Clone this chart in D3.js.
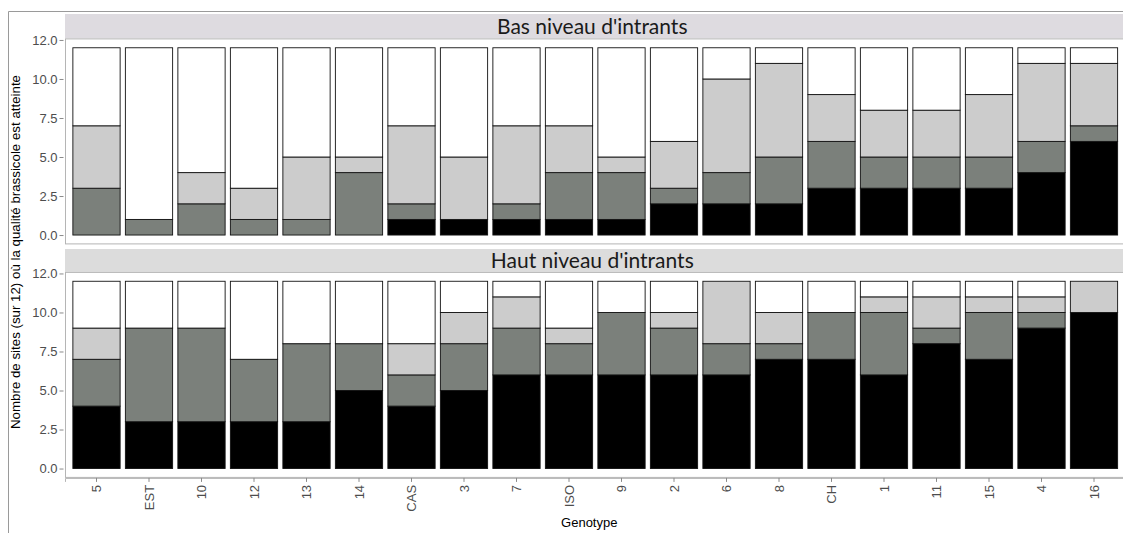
<!DOCTYPE html>
<html lang="fr">
<head>
<meta charset="utf-8">
<style>
  body { margin: 0; background: #fff; }
  .tick text { font-family: "Liberation Sans", Arial, sans-serif; font-size: 13px; fill: #4d4d4d; }
  .tick line { stroke: #8a8a8a; }
  .strip-text { font-family: Lato, "Open Sans", sans-serif; font-size: 21px; fill: #1a1a1a; }
  .axis-title { font-family: "Liberation Sans", Arial, sans-serif; font-size: 13px; fill: #000; }
</style>
</head>
<body>
<svg width="1123" height="533"></svg>
<script src="https://cdn.jsdelivr.net/npm/d3@7"></script>
<script>
// genotypes, ordered as in the figure
var genotypes = ["5","EST","10","12","13","14","CAS","3","7","ISO","9","2","6","8","CH","1","11","15","4","16"];

// bas niveau d'intrants (counts of sites, out of 12), from bottom to top
var basNoir  = [0,0,0,0,0,0,1,1,1,1,1,2,2,2,3,3,3,3,4,6];
var basFonce = [3,1,2,1,1,4,1,0,1,3,3,1,2,3,3,2,2,2,2,1];
var basClair = [4,0,2,2,4,1,5,4,5,3,1,3,6,6,3,3,3,4,5,4];
var basBlanc = [5,11,8,9,7,7,5,7,5,5,7,6,2,1,3,4,4,3,1,1];

// haut niveau d'intrants
var hautNoir  = [4,3,3,3,3,5,4,5,6,6,6,6,6,7,7,6,8,7,9,10];
var hautFonce = [3,6,6,4,5,3,2,3,3,2,4,3,2,1,3,4,1,3,1,0];
var hautClair = [2,0,0,0,0,0,2,2,2,1,0,1,4,2,0,1,2,1,1,2];
var hautBlanc = [3,3,3,5,4,4,4,2,1,3,2,2,0,2,2,1,1,1,1,0];

var panelTitles = ["Bas niveau d'intrants", "Haut niveau d'intrants"];
var yTickValues = [0, 2.5, 5, 7.5, 10, 12.5];
var yTickLabels = ["0.0", "2.5", "5.0", "7.5", "10.0", "12.0"];
var keys = ["noir", "fonce", "clair", "blanc"];
var fills = ["#000000", "#7b807b", "#cccccc", "#ffffff"];

function rows(noir, fonce, clair, blanc) {
    return genotypes.map(function (g, i) {
        return { genotype: g, noir: noir[i], fonce: fonce[i], clair: clair[i], blanc: blanc[i] };
    });
}
var panels = [
    { title: panelTitles[0], data: rows(basNoir, basFonce, basClair, basBlanc), stripTop: 14, top: 38.4, bottom: 244.4 },
    { title: panelTitles[1], data: rows(hautNoir, hautFonce, hautClair, hautBlanc), stripTop: 249, top: 271.9, bottom: 477.9 }
];

var svg = d3.select("svg");
var left = 65, right = 1125.5;

// outer frame
svg.append("path")
    .attr("d", "M8.5,533V11.5H1123")
    .attr("fill", "none")
    .attr("stroke", "#9a9a9a");

var x = d3.scaleBand()
    .domain(genotypes)
    .range([left, right])
    .paddingInner(0.1)
    .paddingOuter(0.15);

var color = d3.scaleOrdinal().domain(keys).range(fills);
var stack = d3.stack().keys(keys);

panels.forEach(function (p, pi) {
    var y = d3.scaleLinear().domain([-0.6, 12.6]).range([p.bottom, p.top]);
    var g = svg.append("g");

    // strip
    g.append("rect")
        .attr("x", left).attr("y", p.stripTop)
        .attr("width", right - left).attr("height", p.top - p.stripTop)
        .attr("fill", pi === 0 ? "#dedbe0" : "#dcdcdc");
    g.append("text")
        .attr("class", "strip-text")
        .attr("x", (left + right) / 2 - 3)
        .attr("y", (p.stripTop + p.top) / 2)
        .attr("dy", "0.36em")
        .attr("text-anchor", "middle")
        .text(p.title);

    // panel border
    g.append("rect")
        .attr("x", left + 0.5).attr("y", p.top + 0.5)
        .attr("width", right - left).attr("height", p.bottom - p.top - 1)
        .attr("fill", "none")
        .attr("stroke", "#b5b5b5");

    var series = stack(p.data);
    g.selectAll(".serie")
        .data(series)
        .enter().append("g")
        .attr("fill", function (d) { return color(d.key); })
        .selectAll("rect")
        .data(function (d) { return d.filter(function (s) { return s[1] > s[0]; }); })
        .enter().append("rect")
        .attr("x", function (d) { return x(d.data.genotype); })
        .attr("width", x.bandwidth())
        .attr("y", function (d) { return y(d[1]); })
        .attr("height", function (d) { return y(d[0]) - y(d[1]); })
        .attr("stroke", "#111")
        .attr("stroke-width", 0.9);

    var yAxis = d3.axisLeft(y)
        .tickValues(yTickValues)
        .tickFormat(function (d, i) { return yTickLabels[i]; })
        .tickSize(4)
        .tickPadding(2);
    var ya = g.append("g")
        .attr("transform", "translate(" + (left - 1.5) + ",0)")
        .call(yAxis);
    ya.select(".domain").remove();

    if (pi === 1) {
        var xAxis = d3.axisBottom(x).tickSize(4).tickPadding(3);
        var xa = g.append("g")
            .attr("transform", "translate(0," + p.bottom + ")")
            .call(xAxis);
        xa.select(".domain").attr("stroke", "#b5b5b5");
        xa.selectAll(".tick text")
            .attr("transform", "rotate(-90)")
            .attr("text-anchor", "end")
            .attr("x", -7)
            .attr("y", 0)
            .attr("dy", "0.35em");
    }
});

svg.append("text")
    .attr("class", "axis-title")
    .attr("text-anchor", "middle")
    .attr("x", (left + right) / 2 - 6)
    .attr("y", 527)
    .text("Genotype");

svg.append("text")
    .attr("class", "axis-title")
    .style("font-size", "13.3px")
    .attr("text-anchor", "middle")
    .attr("transform", "translate(20,252) rotate(-90)")
    .text("Nombre de sites (sur 12) où la qualité brassicole est atteinte");
</script>
</body>
</html>
